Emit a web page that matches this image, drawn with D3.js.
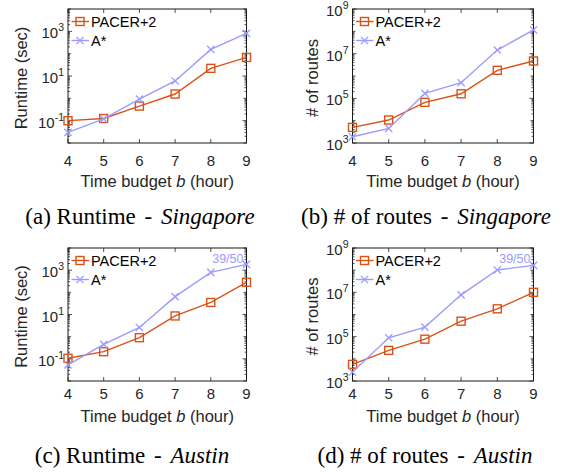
<!DOCTYPE html>
<html><head><meta charset="utf-8">
<script src="https://cdn.jsdelivr.net/npm/d3@7"></script>
<style>body{margin:0;background:#fff} svg{display:block}</style>
</head><body>
<script>
// ---- data ----
const budgets = [4, 5, 6, 7, 8, 9];
const seriesNames = ["PACER+2", "A*"];
const runtimeSgPacer = [0.1, 0.125, 0.45, 1.56, 22, 68];
const runtimeSgAstar = [0.03, 0.12, 0.93, 6, 156, 810];
const routesSgPacer = [5000, 10700, 66000, 160000, 1800000, 4700000];
const routesSgAstar = [1900, 4500, 166000, 500000, 14500000, 115000000];
const runtimeAuPacer = [0.106, 0.21, 0.9, 8.6, 35, 284];
const runtimeAuAstar = [0.053, 0.45, 2.6, 64, 795, 1830];
const routesAuPacer = [5600, 24000, 77000, 500000, 1800000, 10000000];
const routesAuAstar = [2540, 89000, 270000, 7700000, 102000000, 165000000];
const runtimeTickExps = [-1, 1, 3];
const routesTickExps = [3, 5, 7, 9];
const runtimeDomain = [1e-2, 1e4];
const routesDomain = [1e3, 1e9];
const xLabelText = ["Time budget ", "b", " (hour)"];
const note = "39/50";

const colors = ["#D95319", "#9B9BFF"];
const W = 569, H = 472;
const svg = d3.select("body").append("svg").attr("width", W).attr("height", H)
  .style("font-family", "'Liberation Sans', Arial, sans-serif");

const panels = [
  {x0: 68, x1: 246.5, y0: 9, y1: 143, dom: runtimeDomain, exps: runtimeTickExps, ylab: "Runtime (sec)", ylx: 27,
   s: [runtimeSgPacer, runtimeSgAstar], cap: ["(a) Runtime", "Singapore"], capX: 140, tickY: 166, xlY: 186.5, capY: 224, note: false},
  {x0: 352.5, x1: 533.5, y0: 9, y1: 143, dom: routesDomain, exps: routesTickExps, ylab: "# of routes", ylx: 318,
   s: [routesSgPacer, routesSgAstar], cap: ["(b) # of routes", "Singapore"], capX: 426, tickY: 166, xlY: 186.5, capY: 224, note: false},
  {x0: 68, x1: 246.5, y0: 248, y1: 381, dom: runtimeDomain, exps: runtimeTickExps, ylab: "Runtime (sec)", ylx: 27,
   s: [runtimeAuPacer, runtimeAuAstar], cap: ["(c) Runtime", "Austin"], capX: 132, tickY: 399, xlY: 422, capY: 463, note: true},
  {x0: 352.5, x1: 533.5, y0: 248, y1: 381, dom: routesDomain, exps: routesTickExps, ylab: "# of routes", ylx: 318,
   s: [routesAuPacer, routesAuAstar], cap: ["(d) # of routes", "Austin"], capX: 425, tickY: 399, xlY: 422, capY: 463, note: true}
];

function drawMarker(g, type, cx, cy, color) {
  if (type === 0) {
    g.append("rect").attr("x", cx - 4).attr("y", cy - 4).attr("width", 8).attr("height", 8)
      .attr("fill", "none").attr("stroke", color).attr("stroke-width", 1.4);
  } else {
    const r = 3.6;
    g.append("path").attr("d", `M${cx-r},${cy-r}L${cx+r},${cy+r}M${cx-r},${cy+r}L${cx+r},${cy-r}`)
      .attr("stroke", color).attr("stroke-width", 1.3).attr("fill", "none");
  }
}

panels.forEach(p => {
  const g = svg.append("g");
  const x = d3.scaleLinear().domain([budgets[0], budgets[budgets.length - 1]]).range([p.x0, p.x1]);
  const y = d3.scaleLog().domain(p.dom).range([p.y1, p.y0]);

  // minor & major y ticks (inside, both sides)
  const lo = Math.round(Math.log10(p.dom[0])), hi = Math.round(Math.log10(p.dom[1]));
  for (let d = lo; d <= hi; d++) {
    for (let k = 1; k <= 9; k++) {
      const v = k * Math.pow(10, d);
      if (v < p.dom[0] * 0.999 || v > p.dom[1] * 1.001) continue;
      const major = k === 1 && p.exps.includes(d);
      const len = major ? 4 : (k === 1 ? 3 : 2);
      const yy = y(v);
      g.append("line").attr("x1", p.x0).attr("x2", p.x0 + len).attr("y1", yy).attr("y2", yy).attr("stroke", "#222").attr("stroke-width", 0.8);
      g.append("line").attr("x1", p.x1).attr("x2", p.x1 - len).attr("y1", yy).attr("y2", yy).attr("stroke", "#222").attr("stroke-width", 0.8);
    }
  }
  // x ticks (inside, top & bottom)
  budgets.forEach(b => {
    g.append("line").attr("x1", x(b)).attr("x2", x(b)).attr("y1", p.y1).attr("y2", p.y1 - 4).attr("stroke", "#222").attr("stroke-width", 0.8);
    g.append("line").attr("x1", x(b)).attr("x2", x(b)).attr("y1", p.y0).attr("y2", p.y0 + 4).attr("stroke", "#222").attr("stroke-width", 0.8);
  });

  // box
  g.append("rect").attr("x", p.x0).attr("y", p.y0).attr("width", p.x1 - p.x0).attr("height", p.y1 - p.y0)
    .attr("fill", "none").attr("stroke", "#1a1a1a").attr("stroke-width", 1);

  // x tick labels
  budgets.forEach(b => {
    g.append("text").attr("x", x(b)).attr("y", p.tickY).attr("text-anchor", "middle")
      .attr("font-size", 15).attr("fill", "#262626").text(b);
  });
  // y tick labels
  p.exps.forEach(e => {
    const t = g.append("text").attr("x", p.x0 - 4).attr("y", y(Math.pow(10, e)) + 7)
      .attr("text-anchor", "end").attr("font-size", 15).attr("fill", "#262626");
    t.append("tspan").text("10");
    t.append("tspan").attr("dy", -7).attr("font-size", 10.5).text(String(e));
  });
  // x label
  const xl = g.append("text").attr("x", (p.x0 + p.x1) / 2).attr("y", p.xlY).attr("text-anchor", "middle")
    .attr("font-size", 16.5).attr("fill", "#262626");
  xl.append("tspan").text(xLabelText[0]);
  xl.append("tspan").attr("font-style", "italic").text(xLabelText[1]);
  xl.append("tspan").text(xLabelText[2]);
  // y label
  g.append("text").attr("transform", `translate(${p.ylx},${(p.y0 + p.y1) / 2 + 2}) rotate(-90)`)
    .attr("text-anchor", "middle").attr("font-size", 16.5).attr("fill", "#262626").text(p.ylab);

  // series
  const line = d3.line().x((d, i) => x(budgets[i])).y(d => y(d));
  p.s.forEach((vals, si) => {
    g.append("path").datum(vals).attr("d", line).attr("fill", "none")
      .attr("stroke", colors[si]).attr("stroke-width", 1.4);
    vals.forEach((v, i) => drawMarker(g, si, x(budgets[i]), y(v), colors[si]));
  });

  // legend
  seriesNames.forEach((name, si) => {
    const ly = p.y0 + 12.5 + si * 19;
    g.append("line").attr("x1", p.x0 + 3.5).attr("x2", p.x0 + 21).attr("y1", ly).attr("y2", ly)
      .attr("stroke", colors[si]).attr("stroke-width", 1.4);
    drawMarker(g, si, p.x0 + 12, ly, colors[si]);
    g.append("text").attr("x", p.x0 + 23).attr("y", ly + 5.2).attr("font-size", 14.5).attr("fill", "#000").text(name);
  });

  // note
  if (p.note) {
    g.append("text").attr("x", p.x1 - 3).attr("y", p.y0 + 14.5).attr("text-anchor", "end")
      .attr("font-size", 12.5).attr("fill", colors[1]).text(note);
  }

  // caption
  const c = g.append("text").attr("x", p.capX).attr("y", p.capY).attr("text-anchor", "middle")
    .attr("font-family", "'Liberation Serif', 'Times New Roman', serif").attr("font-size", 23).attr("fill", "#000");
  c.append("tspan").text(p.cap[0]);
  c.append("tspan").attr("dx", 3).text(" - ");
  c.append("tspan").attr("dx", 3).attr("font-style", "italic").text(p.cap[1]);
});
</script>
</body></html>
